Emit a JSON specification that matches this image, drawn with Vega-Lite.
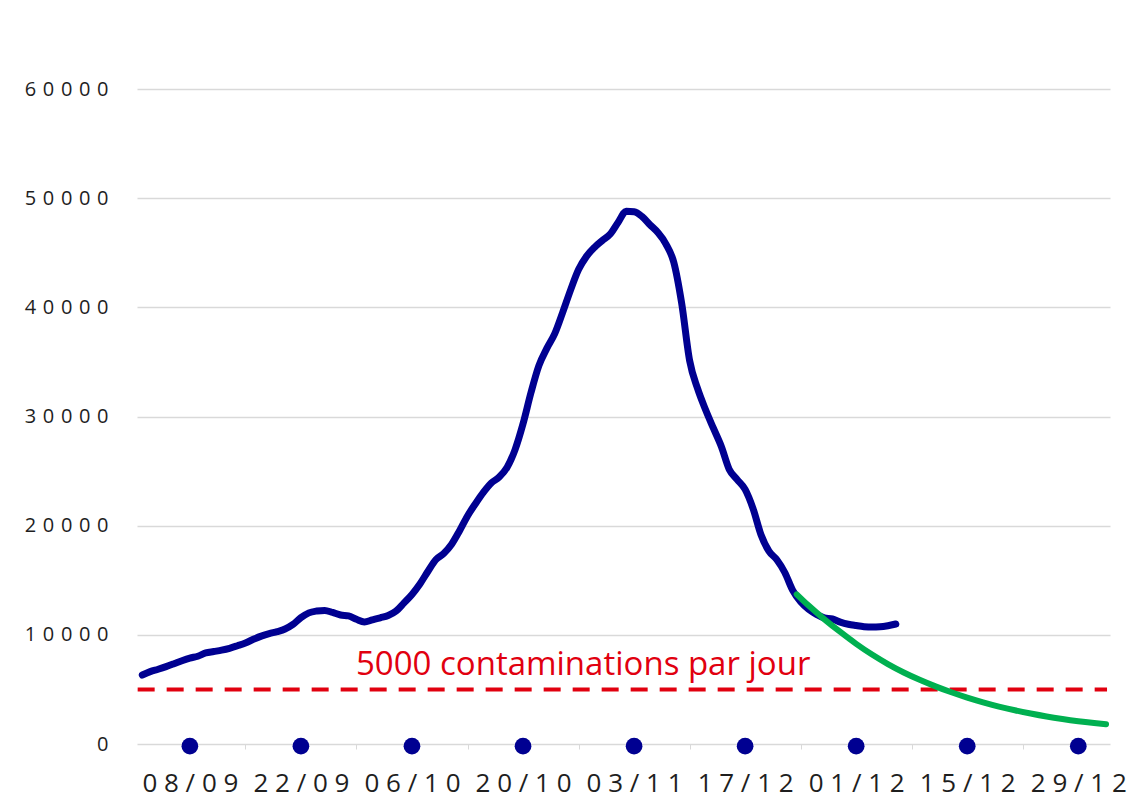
{
  "$schema": "https://vega.github.io/schema/vega-lite/v6.json",
  "width": 973,
  "height": 655,
  "autosize": {"type": "none"},
  "padding": {"left": 137, "top": 89, "right": 38, "bottom": 57},
  "background": "white",
  "config": {"view": {"stroke": null}, "font": "Open Sans"},
  "datasets": {
    "reel": [
      {"date": "2020/09/02", "value": 6320}, {"date": "2020/09/03", "value": 6630}, {"date": "2020/09/04", "value": 6850},
      {"date": "2020/09/05", "value": 7090}, {"date": "2020/09/06", "value": 7355}, {"date": "2020/09/07", "value": 7630},
      {"date": "2020/09/08", "value": 7870}, {"date": "2020/09/09", "value": 8040}, {"date": "2020/09/10", "value": 8340},
      {"date": "2020/09/11", "value": 8470}, {"date": "2020/09/12", "value": 8600}, {"date": "2020/09/13", "value": 8770},
      {"date": "2020/09/14", "value": 9000}, {"date": "2020/09/15", "value": 9250}, {"date": "2020/09/16", "value": 9590},
      {"date": "2020/09/17", "value": 9880}, {"date": "2020/09/18", "value": 10110}, {"date": "2020/09/19", "value": 10290},
      {"date": "2020/09/20", "value": 10530}, {"date": "2020/09/21", "value": 10950}, {"date": "2020/09/22", "value": 11570},
      {"date": "2020/09/23", "value": 12010}, {"date": "2020/09/24", "value": 12180}, {"date": "2020/09/25", "value": 12240},
      {"date": "2020/09/26", "value": 12050}, {"date": "2020/09/27", "value": 11820}, {"date": "2020/09/28", "value": 11740},
      {"date": "2020/09/29", "value": 11420}, {"date": "2020/09/30", "value": 11180}, {"date": "2020/10/01", "value": 11370},
      {"date": "2020/10/02", "value": 11560}, {"date": "2020/10/03", "value": 11770}, {"date": "2020/10/04", "value": 12180},
      {"date": "2020/10/05", "value": 12930}, {"date": "2020/10/06", "value": 13700}, {"date": "2020/10/07", "value": 14660},
      {"date": "2020/10/08", "value": 15800}, {"date": "2020/10/09", "value": 16880}, {"date": "2020/10/10", "value": 17450},
      {"date": "2020/10/11", "value": 18300}, {"date": "2020/10/12", "value": 19540}, {"date": "2020/10/13", "value": 20890},
      {"date": "2020/10/14", "value": 22010}, {"date": "2020/10/15", "value": 23050}, {"date": "2020/10/16", "value": 23910},
      {"date": "2020/10/17", "value": 24450}, {"date": "2020/10/18", "value": 25350}, {"date": "2020/10/19", "value": 26970},
      {"date": "2020/10/20", "value": 29330}, {"date": "2020/10/21", "value": 32180}, {"date": "2020/10/22", "value": 34660},
      {"date": "2020/10/23", "value": 36240}, {"date": "2020/10/24", "value": 37590}, {"date": "2020/10/25", "value": 39540},
      {"date": "2020/10/26", "value": 41600}, {"date": "2020/10/27", "value": 43460}, {"date": "2020/10/28", "value": 44670},
      {"date": "2020/10/29", "value": 45490}, {"date": "2020/10/30", "value": 46120}, {"date": "2020/10/31", "value": 46720},
      {"date": "2020/11/01", "value": 47800}, {"date": "2020/11/02", "value": 48800}, {"date": "2020/11/03", "value": 48750},
      {"date": "2020/11/04", "value": 48320}, {"date": "2020/11/05", "value": 47570}, {"date": "2020/11/06", "value": 46850},
      {"date": "2020/11/07", "value": 45820}, {"date": "2020/11/08", "value": 44140}, {"date": "2020/11/09", "value": 40370},
      {"date": "2020/11/10", "value": 35130}, {"date": "2020/11/11", "value": 32570}, {"date": "2020/11/12", "value": 30640},
      {"date": "2020/11/13", "value": 28930}, {"date": "2020/11/14", "value": 27250}, {"date": "2020/11/15", "value": 25150},
      {"date": "2020/11/16", "value": 24220}, {"date": "2020/11/17", "value": 23320}, {"date": "2020/11/18", "value": 21560},
      {"date": "2020/11/19", "value": 19170}, {"date": "2020/11/20", "value": 17670}, {"date": "2020/11/21", "value": 16880},
      {"date": "2020/11/22", "value": 15710}, {"date": "2020/11/23", "value": 14070}, {"date": "2020/11/24", "value": 13020},
      {"date": "2020/11/25", "value": 12340}, {"date": "2020/11/26", "value": 11880}, {"date": "2020/11/27", "value": 11540},
      {"date": "2020/11/28", "value": 11450}, {"date": "2020/11/29", "value": 11170}, {"date": "2020/11/30", "value": 10970},
      {"date": "2020/12/01", "value": 10850}, {"date": "2020/12/02", "value": 10750}, {"date": "2020/12/03", "value": 10710},
      {"date": "2020/12/04", "value": 10730}, {"date": "2020/12/05", "value": 10830}, {"date": "2020/12/06", "value": 10990}
    ],
    "projection": [
      {"date": "2020/11/23 12:00", "value": 13710}, {"date": "2020/11/25", "value": 12680}, {"date": "2020/11/27", "value": 11420},
      {"date": "2020/11/29", "value": 10260}, {"date": "2020/12/01", "value": 9170}, {"date": "2020/12/03", "value": 8190},
      {"date": "2020/12/05", "value": 7320}, {"date": "2020/12/07", "value": 6550}, {"date": "2020/12/09", "value": 5880},
      {"date": "2020/12/11", "value": 5280}, {"date": "2020/12/13", "value": 4740}, {"date": "2020/12/15", "value": 4250},
      {"date": "2020/12/17", "value": 3820}, {"date": "2020/12/19", "value": 3430}, {"date": "2020/12/21", "value": 3090},
      {"date": "2020/12/23", "value": 2790}, {"date": "2020/12/25", "value": 2520}, {"date": "2020/12/27", "value": 2290},
      {"date": "2020/12/29", "value": 2090}, {"date": "2020/12/31", "value": 1920}, {"date": "2021/01/01 12:00", "value": 1805}
    ],
    "dots": [
      {"date": "2020/09/08", "value": -200}, {"date": "2020/09/22", "value": -200}, {"date": "2020/10/06", "value": -200},
      {"date": "2020/10/20", "value": -200}, {"date": "2020/11/03", "value": -200}, {"date": "2020/11/17", "value": -200},
      {"date": "2020/12/01", "value": -200}, {"date": "2020/12/15", "value": -200}, {"date": "2020/12/29", "value": -200}
    ],
    "seuil": [
      {"date": "2020/09/01 10:00", "value": 5000}, {"date": "2021/01/01 15:00", "value": 5000}
    ],
    "annotation": [
      {"date": "2020/10/27 14:00", "value": 6320, "label": "5000 contaminations par jour"}
    ]
  },
  "encoding": {
    "x": {
      "field": "date",
      "type": "temporal",
      "scale": {"domain": [{"year": 2020, "month": 9, "date": 1, "hours": 8}, {"year": 2021, "month": 1, "date": 2}]},
      "axis": {
        "title": null,
        "values": [
          {"year": 2020, "month": 9, "date": 8}, {"year": 2020, "month": 9, "date": 15}, {"year": 2020, "month": 9, "date": 22},
          {"year": 2020, "month": 9, "date": 29}, {"year": 2020, "month": 10, "date": 6}, {"year": 2020, "month": 10, "date": 13},
          {"year": 2020, "month": 10, "date": 20}, {"year": 2020, "month": 10, "date": 27}, {"year": 2020, "month": 11, "date": 3},
          {"year": 2020, "month": 11, "date": 10}, {"year": 2020, "month": 11, "date": 17}, {"year": 2020, "month": 11, "date": 24},
          {"year": 2020, "month": 12, "date": 1}, {"year": 2020, "month": 12, "date": 8}, {"year": 2020, "month": 12, "date": 15},
          {"year": 2020, "month": 12, "date": 22}, {"year": 2020, "month": 12, "date": 29}
        ],
        "format": "%d/%m",
        "labelExpr": "indexof(['08/09','22/09','06/10','20/10','03/11','17/11','01/12','15/12','29/12'], datum.label) < 0 ? '' : join(split(datum.label == '17/11' ? '17/12' : datum.label, ''), ' ')",
        "grid": false,
        "domain": false,
        "ticks": true,
        "tickSize": 5,
        "tickColor": "#d9d9d9",
        "tickWidth": 1,
        "labelFont": "Open Sans",
        "labelFontSize": 26,
        "labelColor": "#1e1e1e",
        "labelPadding": 21,
        "labelBaseline": "top",
        "labelFlush": false,
        "labelOverlap": false,
        "labelBound": false
      }
    },
    "y": {
      "field": "value",
      "type": "quantitative",
      "scale": {"domain": [0, 60000], "nice": false},
      "axis": {
        "title": null,
        "values": [0, 10000, 20000, 30000, 40000, 50000, 60000],
        "labelExpr": "join(split(format(datum.value, 'd'), ''), '\u2009\u2009')",
        "grid": true,
        "gridColor": "#d9d9d9",
        "gridWidth": 1.5,
        "domain": false,
        "ticks": false,
        "tickSize": 0,
        "labelPadding": 29,
        "labelFont": "Open Sans",
        "labelFontSize": 20,
        "labelColor": "#1e1e1e"
      }
    }
  },
  "layer": [
    {
      "data": {"name": "seuil"},
      "mark": {"type": "line", "color": "#E1000F", "strokeWidth": 4, "strokeDash": [17, 12]}
    },
    {
      "data": {"name": "annotation"},
      "mark": {"type": "text", "color": "#E1000F", "font": "Open Sans", "fontSize": 33, "align": "center", "baseline": "alphabetic"},
      "encoding": {"text": {"field": "label", "type": "nominal"}}
    },
    {
      "data": {"name": "reel"},
      "mark": {"type": "line", "color": "#000091", "strokeWidth": 7, "strokeCap": "round", "strokeJoin": "round", "interpolate": "monotone"}
    },
    {
      "data": {"name": "projection"},
      "mark": {"type": "line", "color": "#00B050", "strokeWidth": 6, "strokeCap": "round", "interpolate": "monotone"}
    },
    {
      "data": {"name": "dots"},
      "mark": {"type": "point", "filled": true, "color": "#000091", "opacity": 1, "size": 280}
    }
  ]
}
